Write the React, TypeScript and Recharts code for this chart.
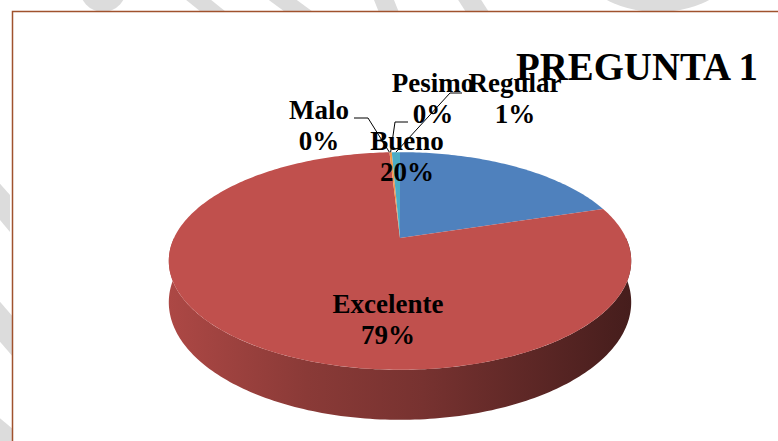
import React from 'react';
import { PieChart, Pie } from 'recharts';

// Survey answers (percent of responses)
const CATEGORIES = ['Bueno', 'Excelente', 'Malo', 'Pesimo', 'Regular'];
const VALUES = [20.2, 78.9, 0, 0.2, 0.7];
const COLORS = ['#4F81BD', '#C0504D', '#9BBB59', '#F79646', '#4BACC6'];

const TITLE = 'PREGUNTA 1';

const W = 778;
const H = 441;
const CX = 400;
const CY = 238;
const RADIUS = 226;
const TILT = 0.46; // vertical squash of the disc
const PERSP = 0.211; // front of the disc looks bigger
const DEPTH = 39.5;

const FONT = '"Liberation Serif", "Times New Roman", serif';

// label placement relative to the pie centre (Excel put them by hand)
const LABEL_OFFSETS: Record<string, { dx: number; dy: number }> = {
    Excelente: { dx: -12, dy: 75 },
    Bueno: { dx: 7, dy: -88 },
    Malo: { dx: -81, dy: -119 },
    Pesimo: { dx: 33, dy: -146 },
    Regular: { dx: 115, dy: -146 },
};

// elbow of the leader lines, relative to the pie centre
const LEADERS: Record<string, [number, number][]> = {
    Malo: [[-46, -120], [-32, -120]],
    Pesimo: [[8, -116], [-5, -116]],
    Regular: [[62, -145], [50, -145]],
};

const data = CATEGORIES.map((name, i) => ({ name, value: VALUES[i], fill: COLORS[i] }));

function project(cx: number, cy: number, R: number, deg: number) {
    const t = (deg * Math.PI) / 180;
    const u = Math.cos(t);
    const v = -Math.sin(t);
    const s = 1 / (1 - PERSP * v);
    return { x: cx + R * u * s, y: cy + R * TILT * v * s, s };
}

function arc(cx: number, cy: number, R: number, a: number, b: number) {
    const n = Math.max(2, Math.ceil(Math.abs(b - a)));
    const pts = [];
    for (let i = 0; i <= n; i++) pts.push(project(cx, cy, R, a + ((b - a) * i) / n));
    return pts;
}

function shade(hex: string, k: number) {
    const n = parseInt(hex.slice(1), 16);
    const r = Math.round(((n >> 16) & 255) * k);
    const g = Math.round(((n >> 8) & 255) * k);
    const b = Math.round((n & 255) * k);
    return `rgb(${r},${g},${b})`;
}

function Slice3D(props: any) {
    const { cx, cy, outerRadius, startAngle, endAngle, fill, index } = props;
    if (Math.abs(endAngle - startAngle) < 1e-6) return <g />;
    const lo = Math.min(startAngle, endAngle);
    const hi = Math.max(startAngle, endAngle);

    // front-facing wall pieces
    const walls: string[] = [];
    for (const k of [-1, 0, 1]) {
        const a = Math.max(lo, -180 + 360 * k);
        const b = Math.min(hi, 360 * k);
        if (b > a) {
            const top = arc(cx, cy, outerRadius, a, b);
            const bottom = top.slice().reverse();
            let d = `M${top[0].x},${top[0].y}`;
            top.forEach((p) => (d += `L${p.x},${p.y}`));
            bottom.forEach((p) => (d += `L${p.x},${p.y + DEPTH * p.s}`));
            walls.push(d + 'Z');
        }
    }

    const face = arc(cx, cy, outerRadius, startAngle, endAngle);
    let d = `M${cx},${cy}`;
    face.forEach((p) => (d += `L${p.x},${p.y}`));
    d += 'Z';

    const gid = `side-${index}`;
    return (
        <g>
            <defs>
                <linearGradient id={gid} gradientUnits="userSpaceOnUse" x1={cx - outerRadius * 1.03} x2={cx + outerRadius * 1.03} y1={0} y2={0}>
                    <stop offset="0%" stopColor={shade(fill, 0.9)} />
                    <stop offset="30%" stopColor={shade(fill, 0.72)} />
                    <stop offset="55%" stopColor={shade(fill, 0.62)} />
                    <stop offset="100%" stopColor={shade(fill, 0.36)} />
                </linearGradient>
            </defs>
            {walls.map((w, i) => (
                <path key={i} d={w} fill={`url(#${gid})`} stroke="none" />
            ))}
            <path d={d} fill={fill} stroke="none" />
        </g>
    );
}

function SliceLabel(props: any) {
    const { cx, cy, midAngle, outerRadius, name, percent } = props;
    const off = LABEL_OFFSETS[name];
    if (!off) return null;
    const x = cx + off.dx;
    const y = cy + off.dy;
    const leader = LEADERS[name];
    let line = null;
    if (leader) {
        const end = project(cx, cy, outerRadius, midAngle);
        const pts = leader.map(([dx, dy]) => `${cx + dx},${cy + dy}`).join(' ') + ` ${end.x},${end.y}`;
        line = <polyline points={pts} fill="none" stroke="#000" strokeWidth={1} />;
    }
    return (
        <g>
            {line}
            <text x={x} y={y} textAnchor="middle" fontFamily={FONT} fontWeight="bold" fontSize={27} fill="#000">
                <tspan x={x} dy={0}>{name}</tspan>
                <tspan x={x} dy={31}>{`${Math.round(percent * 100)}%`}</tspan>
            </text>
        </g>
    );
}

export default function App() {
    return (
        <div style={{ position: 'absolute', left: 0, top: 0, width: W, height: H, background: '#fff', overflow: 'hidden' }}>
            <svg width={W} height={H} style={{ position: 'absolute', left: 0, top: 0 }}>
                {/* page watermark showing around the chart frame */}
                <g fill="#dcdcdc">
                    <ellipse cx={103} cy={-14} rx={24} ry={26} />
                    <polygon points="180,-5 205,-5 236,20 211,20" />
                    <polygon points="262,-5 290,-5 324,20 296,20" />
                    <polygon points="372,-5 392,-5 402,20 382,20" />
                    <polygon points="455,-5 478,-5 494,20 471,20" />
                    <ellipse cx={658} cy={-40} rx={80} ry={52} />
                    <polygon points="-5,178 10,195 10,232 -5,214" />
                    <polygon points="-5,296 14,318 14,358 -5,336" />
                    <polygon points="-5,414 14,430 14,450 -5,450" />
                </g>
                <rect x={12.5} y={11.5} width={W} height={H} fill="#fff" stroke="#a0522d" strokeWidth={1.5} />
                <text x={516} y={80} fontFamily={FONT} fontWeight="bold" fontSize={41} textLength={242} lengthAdjust="spacingAndGlyphs" fill="#000">
                    {TITLE}
                </text>
            </svg>
            <div style={{ position: 'absolute', left: 0, top: 0 }}>
                <PieChart width={W} height={H} margin={{ top: 0, right: 0, bottom: 0, left: 0 }}>
                    <Pie
                        data={data}
                        dataKey="value"
                        nameKey="name"
                        cx={CX}
                        cy={CY}
                        outerRadius={RADIUS}
                        startAngle={90}
                        endAngle={-270}
                        stroke="none"
                        shape={Slice3D}
                        activeShape={Slice3D}
                        inactiveShape={Slice3D}
                        label={SliceLabel}
                        labelLine={false}
                        isAnimationActive={false}
                    />
                </PieChart>
            </div>
        </div>
    );
}
